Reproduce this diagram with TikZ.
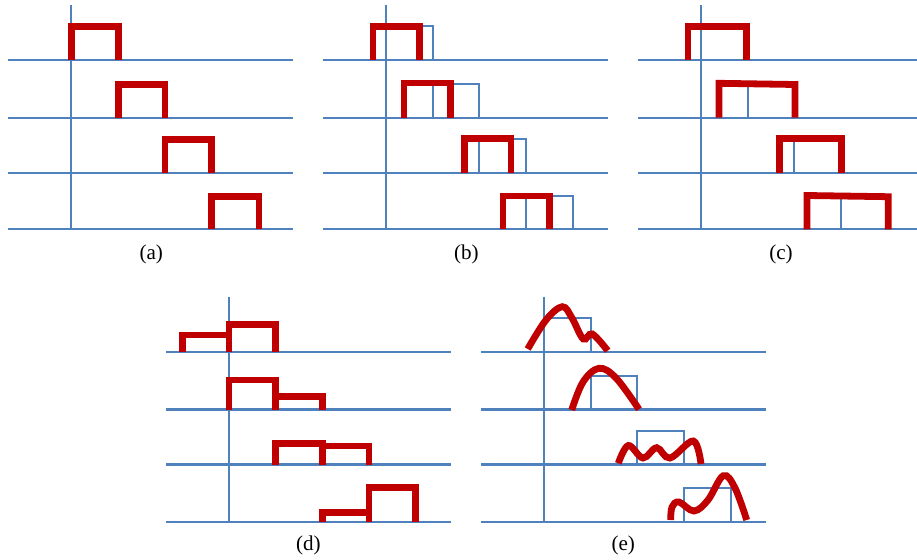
\documentclass[tikz,border=0pt]{standalone}
\usepackage{fontspec}
\setmainfont{Liberation Serif}
\definecolor{axblue}{HTML}{4F81BD}
\definecolor{pulsered}{HTML}{C00000}
\tikzset{
	axisline/.style={draw=axblue, line width=2pt},
	refbox/.style={draw=axblue, line width=1.5pt},
	pulse/.style={draw=pulsered, line width=5.8pt, line join=miter},
	wave/.style={draw=pulsered, line width=5.8pt, smooth, tension=0.6},
	sublabel/.style={font=\fontsize{18}{21}\selectfont, inner sep=0pt}
}
\begin{document}
\begin{tikzpicture}[x=0.03cm, y=-0.03cm]
	\useasboundingbox (0,0) rectangle (917,560);
	% axes of the upper row
	\foreach \x/\xl/\xr in {71/8/293, 386/323/608, 701/638/917} {
		\foreach \y in {60,117.7,173,229.3}
			\draw[axisline] (\xl,\y) -- (\xr,\y);
		\draw[axisline] (\x,5) -- (\x,229.3);
	}
	% axes of the lower row
	\foreach \x/\xl/\xr in {229/166/450.7, 544/481/765.7} {
		\foreach \y in {351.7,409.5,464.5,521.7}
			\draw[axisline] (\xl,\y) -- (\xr,\y);
		\draw[axisline] (\x,296.7) -- (\x,521.7);
	}
	% reference boxes
	\foreach \s in {0,315}
		\foreach \l/\r/\b/\t in {386/432.7/60/26, 432.7/479.3/117.7/84, 479.3/526/173/139, 526/573.3/229.3/195.7}
			\draw[refbox] (\l+\s,\b) |- (\r+\s,\t) -- (\r+\s,\b);
	\foreach \l/\r/\b/\t in {544/590.7/351.7/318.3, 590.7/637.3/409.5/375.7, 637.3/684/464.5/431, 684/730.7/521.7/487.7}
		\draw[refbox] (\l,\b) |- (\r,\t) -- (\r,\b);
	% (a)
	\foreach \l/\r/\b/\t in {71.7/118.3/60/26.7, 118.3/165/117.7/84.7, 165/211.7/173/139.7, 211.7/259/229.3/196.3}
		\draw[pulse] (\l,\b) |- (\r,\t) -- (\r,\b);
	% (b)
	\foreach \l/\r/\b/\t in {373/419.7/60/26.3, 404/450.7/117.7/83, 464.3/511/173/138.8, 503/549.7/229.3/196}
		\draw[pulse] (\l,\b) |- (\r,\t) -- (\r,\b);
	% (c)
	\foreach \l/\r/\b/\tl/\tr in {688/746.7/60/26.3/26.3, 719/795/117.7/83.3/84.5, 779.3/841.7/173/138.8/138.8, 807/888.3/229.3/195.5/196.7}
		\draw[pulse] (\l,\b) -- (\l,\tl) -- (\r,\tr) -- (\r,\b);
	% (d)
	\foreach \l/\r/\b/\t in {182.3/229/351.7/335, 229/275.7/351.7/324.3,
		229/275.7/409.5/380, 275.7/322.3/409.5/396.7,
		275.7/322.3/464.5/443.3, 322.3/369/464.5/446,
		322.3/369/521.7/512.3, 369/415.7/521.7/487.7}
		\draw[pulse] (\l,\b) |- (\r,\t) -- (\r,\b);
	% (e)
	\draw[wave] plot coordinates {(527.7,349) (546,320) (562.3,306.7) (572,318) (583.3,339) (592.3,334) (607.7,350.7)};
	\draw[wave] plot coordinates {(571.7,410) (583,382) (599,368.3) (616,378) (639,409.3)};
	\draw[wave] plot coordinates {(618.3,463.3) (628.3,445.5) (643,458) (656.7,447.7) (670,458) (693.3,441) (701,464)};
	\draw[wave] plot coordinates {(670.7,520) (672,507) (679,502) (694,511) (708,500) (723.3,475.7) (735,488) (746.7,520)};
	% captions
	\node[sublabel] (capa) at (151.3,254) {(a)};
	\node[sublabel] (capb) at (466.3,254) {(b)};
	\node[sublabel] (capc) at (781,254) {(c)};
	\node[sublabel] (capd) at (308.3,545.8) {(d)};
	\node[sublabel] (cape) at (623.3,545.8) {(e)};
\end{tikzpicture}
\end{document}
